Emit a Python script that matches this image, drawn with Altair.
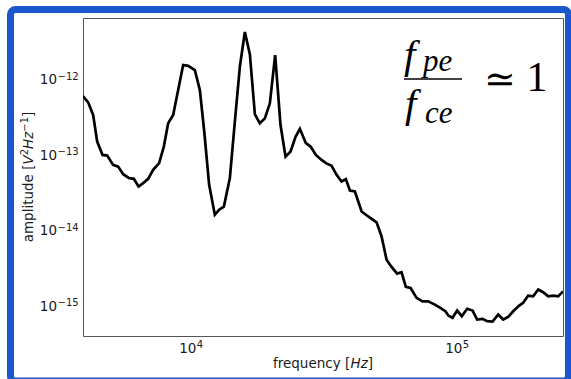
import altair as alt
import pandas as pd

# ---- data ----
freq_hz = [4000, 4182, 4368, 4522, 4738, 4931, 5193, 5423, 5662, 5965,
           6212, 6470, 6733, 7031, 7342, 7732, 8054, 8360, 8730, 9116,
           9519, 9940, 10530, 11000, 11430, 11920, 12520, 13000, 13540, 14260,
           14890, 15550, 16240, 16960, 17710, 18490, 19310, 20160, 21110, 22110,
           23090, 24120, 25180, 26140, 27540, 28680, 30030, 31540, 32880, 34400,
           35920, 37510, 38930, 40310, 42090, 44610, 47220, 50780, 53020, 55370,
           57810, 60690, 63040, 65430, 68150, 71780, 75610, 79360, 84090, 88190,
           92110, 94540, 98000, 102000, 106200, 111200, 116600, 121300, 127100, 132300,
           138600, 145500, 151900, 158600, 166700, 174500, 180600, 188600, 197000, 205700,
           214800, 224300, 234200, 244500, 255000]

amplitude = [6.02e-13, 4.97e-13, 3.38e-13, 1.50e-13, 1.00e-13, 9.79e-14, 7.38e-14, 7.00e-14, 5.56e-14, 4.92e-14,
             4.82e-14, 3.81e-14, 4.23e-14, 4.82e-14, 6.34e-14, 7.77e-14, 1.29e-13, 2.62e-13, 3.38e-13, 7.22e-13,
             1.55e-12, 1.51e-12, 1.33e-12, 7.22e-13, 2.01e-13, 4.02e-14, 1.61e-14, 1.88e-14, 2.07e-14, 4.92e-14,
             2.75e-13, 1.47e-12, 4.25e-12, 2.14e-12, 3.45e-13, 2.62e-13, 3.05e-13, 4.82e-13, 2.09e-12, 2.49e-13,
             9.50e-14, 1.11e-13, 1.74e-13, 2.21e-13, 1.43e-13, 1.29e-13, 1.00e-13, 8.59e-14, 7.72e-14, 7.16e-14,
             5.44e-14, 4.44e-14, 4.78e-14, 3.38e-14, 3.28e-14, 1.78e-14, 1.53e-14, 1.28e-14, 8.33e-15, 4.10e-15,
             3.28e-15, 2.68e-15, 2.79e-15, 1.79e-15, 1.73e-15, 1.28e-15, 1.15e-15, 1.15e-15, 1.04e-15, 9.44e-16,
             8.51e-16, 7.47e-16, 6.96e-16, 8.69e-16, 7.31e-16, 9.16e-16, 8.69e-16, 6.61e-16, 6.76e-16, 6.28e-16,
             6.22e-16, 7.70e-16, 6.61e-16, 7.18e-16, 8.69e-16, 1.01e-15, 1.10e-15, 1.37e-15, 1.34e-15, 1.65e-15,
             1.52e-15, 1.34e-15, 1.37e-15, 1.34e-15, 1.56e-15]

x_domain = [4000, 255000]
y_domain = [4.0e-16, 6.5e-12]

tick_base = "10"
x_major = [1e4, 1e5]
x_major_exp = ["4", "5"]
y_major = [1e-15, 1e-14, 1e-13, 1e-12]
y_major_exp = ["−15", "−14", "−13", "−12"]

# axis titles, in pieces: (text, italic?, superscript?)
x_title_parts = [("frequency [", False, False), ("Hz", True, False), ("]", False, False)]
y_title_parts = [("amplitude [", False, False), ("V", True, False), ("2", False, True),
                 ("Hz", True, False), ("−1", False, True), ("]", False, False)]

# ---- helpers ----
def minor_ticks(lo, hi, exps):
    out = []
    for e in exps:
        for k in range(2, 10):
            v = k * 10.0 ** e
            if lo <= v <= hi:
                out.append(v)
    return out


def is_major(vals):
    return " || ".join(f"abs(datum.value/{v!r} - 1) < 1e-6" for v in vals)


x_ticks = sorted(x_major + minor_ticks(x_domain[0], x_domain[1], range(3, 6)))
y_ticks = sorted(y_major + minor_ticks(y_domain[0], y_domain[1], range(-17, -11)))

df = pd.DataFrame({"freq": freq_hz, "amp": amplitude})
df_xl = pd.DataFrame({"v": x_major, "base": tick_base, "exp": x_major_exp})
df_yl = pd.DataFrame({"v": y_major, "base": tick_base, "exp": y_major_exp})

W, H = 480, 318
OX, OY = 83, 18  # plot origin in the canvas
FONT = "DejaVu Sans"
TXT = "#1a1a1a"
LBL = 13.5
SUP = 10

# approximate DejaVu Sans advance widths (em) for laying out title pieces
ADV = {"a": .613, "m": .974, "p": .635, "l": .278, "i": .278, "t": .392, "u": .634,
       "d": .635, "e": .615, " ": .318, "[": .390, "]": .390, "V": .684, "H": .752,
       "z": .525, "2": .636, "1": .636, "−": .838, "f": .352, "r": .411, "q": .635,
       "n": .634, "c": .550, "y": .592}


def width(s, size):
    return sum(ADV.get(ch, .6) for ch in s) * size


x_scale = alt.Scale(type="log", domain=x_domain, nice=False)
y_scale = alt.Scale(type="log", domain=y_domain, nice=False)

x_axis = alt.Axis(
    values=x_ticks, labels=False, title="",
    tickSize={"condition": {"test": is_major(x_major), "value": 3.5}, "value": 2},
    tickColor="#444", tickWidth=0.8, domain=False, grid=False,
)
y_axis = alt.Axis(
    values=y_ticks, labels=False, title="",
    tickSize={"condition": {"test": is_major(y_major), "value": 3.5}, "value": 2},
    tickColor="#444", tickWidth=0.8, domain=False, grid=False,
)

line = alt.Chart(df).mark_line(color="black", strokeWidth=2.7, clip=True).encode(
    x=alt.X("freq:Q", scale=x_scale, axis=x_axis),
    y=alt.Y("amp:Q", scale=y_scale, axis=y_axis),
)

# tick labels "10" + superscript exponent, placed through the scales
xl_base = alt.Chart(df_xl).mark_text(
    font=FONT, fontSize=LBL, align="right", baseline="alphabetic", color=TXT, dx=7.5,
).encode(x=alt.X("v:Q", scale=x_scale, axis=None), y=alt.value(353 - OY), text="base:N")
xl_exp = alt.Chart(df_xl).mark_text(
    font=FONT, fontSize=SUP, align="left", baseline="alphabetic", color=TXT, dx=8,
).encode(x=alt.X("v:Q", scale=x_scale, axis=None), y=alt.value(347.5 - OY), text="exp:N")
yl_base = alt.Chart(df_yl).mark_text(
    font=FONT, fontSize=LBL, align="right", baseline="alphabetic", color=TXT, dy=5,
).encode(y=alt.Y("v:Q", scale=y_scale, axis=None), x=alt.value(57 - OX), text="base:N")
yl_exp = alt.Chart(df_yl).mark_text(
    font=FONT, fontSize=SUP, align="left", baseline="alphabetic", color=TXT, dy=0.5,
).encode(y=alt.Y("v:Q", scale=y_scale, axis=None), x=alt.value(57.5 - OX), text="exp:N")

one = pd.DataFrame({"k": [0]})


def piece(s, x, y, size, italic=False, angle=0, font=FONT, align="left", color=TXT):
    kw = dict(font=font, fontSize=size, align=align, baseline="alphabetic", color=color)
    if italic:
        kw["fontStyle"] = "italic"
    if angle:
        kw["angle"] = angle
    return alt.Chart(one).mark_text(**kw).encode(
        x=alt.value(x - OX), y=alt.value(y - OY), text=alt.value(s))


titles = []
# x title, centred under the plot
tot = sum(width(s, SUP if sup else LBL) for s, _, sup in x_title_parts)
cx = OX + W / 2 - tot / 2
for s, it, sup in x_title_parts:
    sz = SUP if sup else LBL
    titles.append(piece(s, cx, 368 - (5 if sup else 0), sz, italic=it))
    cx += width(s, sz)

# y title, rotated, reading upward, centred on the plot
tot = sum(width(s, SUP if sup else LBL) for s, _, sup in y_title_parts)
cy = OY + H / 2 + tot / 2
for s, it, sup in y_title_parts:
    sz = SUP if sup else LBL
    titles.append(piece(s, 32.5 - (5 if sup else 0), cy, sz, italic=it, angle=270))
    cy -= width(s, sz)

SERIF = "Liberation Serif"
ann = [
    piece("f", 404, 68, 41, italic=True, font=SERIF, color="black"),
    piece("pe", 423, 71, 31, italic=True, font=SERIF, color="black"),
    piece("f", 405, 117, 41, italic=True, font=SERIF, color="black"),
    piece("ce", 425, 123, 31, italic=True, font=SERIF, color="black"),
    piece("≃", 500, 92, 38, font="DejaVu Serif", align="center", color="black"),
    piece("1", 537, 91, 42, font=SERIF, align="center", color="black"),
    alt.Chart(one).mark_rule(color="black", strokeWidth=1.3).encode(
        x=alt.value(404 - OX), x2=alt.value(462 - OX),
        y=alt.value(79 - OY), y2=alt.value(79 - OY)),
]

frame = alt.Chart(one).mark_rect(
    fill=None, fillOpacity=0, stroke="#1a57cc", strokeWidth=7, cornerRadius=5,
).encode(
    x=alt.value(10.5 - OX), x2=alt.value(568.5 - OX),
    y=alt.value(9.5 - OY), y2=alt.value(381 - OY),
)

chart = alt.layer(line, xl_base, xl_exp, yl_base, yl_exp, *titles, *ann, frame).properties(
    width=W, height=H,
    autosize=alt.AutoSizeParams(type="none"),
    padding={"left": OX, "top": OY, "right": 571 - OX - W, "bottom": 379 - OY - H},
    background="white",
).configure_view(stroke="#555", strokeWidth=1)

chart.save("out.html", embed_options={"renderer": "svg", "actions": False})
